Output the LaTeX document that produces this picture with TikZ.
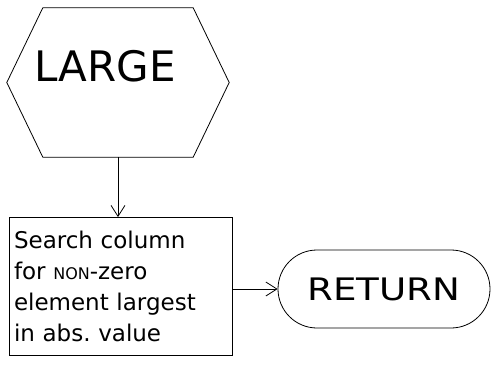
\documentclass[tikz,border=0pt]{standalone}
\usepackage{fontspec}
\setmainfont{DejaVu Sans}
\usetikzlibrary{shapes.misc,arrows.meta}

\tikzset{
  flowline/.style={line width=0.8pt},
  flowarrow/.style={flowline, -{Straight Barb[length=11pt,width=14pt,line width=0.8pt]}},
  hexbox/.style={rectangle, minimum width=222pt, minimum height=149pt, inner sep=0pt},
  procbox/.style={draw, flowline, rectangle, minimum width=223pt, minimum height=138pt,
    text width=213pt, inner sep=4pt, align=left, font=\fontsize{23}{31}\selectfont},
  termbox/.style={draw, flowline, rounded rectangle, minimum width=212pt, minimum height=78pt,
    inner sep=0pt, font=\fontsize{31}{36}\selectfont}
}

\begin{document}
\begin{tikzpicture}[x=1pt,y=-1pt]
\useasboundingbox (0,0) rectangle (494,366);
% subroutine entry
\node[hexbox] (large) at (118,82.5) {};
\draw[flowline] (large.west) -- ([xshift=36pt]large.north west) -- ([xshift=-36pt]large.north east)
  -- (large.east) -- ([xshift=-36pt]large.south east) -- ([xshift=36pt]large.south west) -- cycle;
\node[font=\fontsize{42}{48}\selectfont] (largetext) at (105,66) {LARGE};
% search step
\node[procbox] (search) at (120.5,286.5) {Search column\\ for {\fontsize{16}{31}\selectfont NON}-zero\\ element largest\\ in abs.\ value};
% exit
\node[termbox] (return) at (384,289) {\scalebox{1.2}[1]{RETURN}};

\draw[flowarrow] (large.south) -- (large.south |- search.north);
\draw[flowarrow] (search.east |- return.west) -- (return.west);
\end{tikzpicture}
\end{document}
